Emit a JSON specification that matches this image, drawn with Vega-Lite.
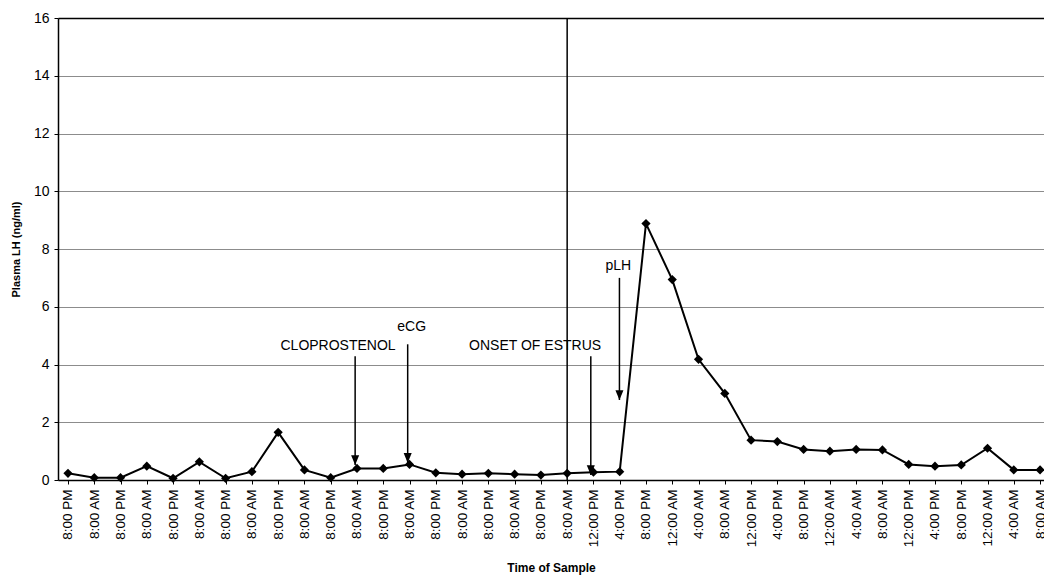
{
  "$schema": "https://vega.github.io/schema/vega-lite/v6.json",
  "autosize": {"type": "none"},
  "padding": {"left": 58, "top": 18, "right": 0, "bottom": 97},
  "width": 986,
  "height": 462,
  "background": "white",
  "config": {
    "font": "Liberation Sans",
    "view": {"stroke": null},
    "axis": {"labelFont": "Liberation Sans", "titleFont": "Liberation Sans", "labelColor": "black", "titleColor": "black", "domainColor": "black", "tickColor": "black"},
    "axisX": {"labelOverlap": false, "labelSeparation": 0}
  },
  "datasets": {
    "lh": [
      {"i": 0, "time": "8:00 PM", "lh": 0.23},
      {"i": 1, "time": "8:00 AM", "lh": 0.08},
      {"i": 2, "time": "8:00 PM", "lh": 0.08},
      {"i": 3, "time": "8:00 AM", "lh": 0.48},
      {"i": 4, "time": "8:00 PM", "lh": 0.06},
      {"i": 5, "time": "8:00 AM", "lh": 0.63},
      {"i": 6, "time": "8:00 PM", "lh": 0.06},
      {"i": 7, "time": "8:00 AM", "lh": 0.29},
      {"i": 8, "time": "8:00 PM", "lh": 1.65},
      {"i": 9, "time": "8:00 AM", "lh": 0.35},
      {"i": 10, "time": "8:00 PM", "lh": 0.08},
      {"i": 11, "time": "8:00 AM", "lh": 0.40},
      {"i": 12, "time": "8:00 PM", "lh": 0.40},
      {"i": 13, "time": "8:00 AM", "lh": 0.54},
      {"i": 14, "time": "8:00 PM", "lh": 0.25},
      {"i": 15, "time": "8:00 AM", "lh": 0.20},
      {"i": 16, "time": "8:00 PM", "lh": 0.23},
      {"i": 17, "time": "8:00 AM", "lh": 0.20},
      {"i": 18, "time": "8:00 PM", "lh": 0.17},
      {"i": 19, "time": "8:00 AM", "lh": 0.23},
      {"i": 20, "time": "12:00 PM", "lh": 0.27},
      {"i": 21, "time": "4:00 PM", "lh": 0.29},
      {"i": 22, "time": "8:00 PM", "lh": 8.88},
      {"i": 23, "time": "12:00 AM", "lh": 6.94},
      {"i": 24, "time": "4:00 AM", "lh": 4.18},
      {"i": 25, "time": "8:00 AM", "lh": 3.00},
      {"i": 26, "time": "12:00 PM", "lh": 1.38},
      {"i": 27, "time": "4:00 PM", "lh": 1.33},
      {"i": 28, "time": "8:00 PM", "lh": 1.06},
      {"i": 29, "time": "12:00 AM", "lh": 1.00},
      {"i": 30, "time": "4:00 AM", "lh": 1.06},
      {"i": 31, "time": "8:00 AM", "lh": 1.04},
      {"i": 32, "time": "12:00 PM", "lh": 0.54},
      {"i": 33, "time": "4:00 PM", "lh": 0.48},
      {"i": 34, "time": "8:00 PM", "lh": 0.52},
      {"i": 35, "time": "12:00 AM", "lh": 1.10},
      {"i": 36, "time": "4:00 AM", "lh": 0.35},
      {"i": 37, "time": "8:00 AM", "lh": 0.35}
    ],
    "arrows": [
      {"x": 10.93, "top": 4.29, "tip": 0.52},
      {"x": 12.93, "top": 4.70, "tip": 0.59},
      {"x": 19.90, "top": 4.29, "tip": 0.17},
      {"x": 20.99, "top": 7.00, "tip": 2.77}
    ],
    "notes": [
      {"x": 10.28, "y": 4.65, "text": "CLOPROSTENOL"},
      {"x": 13.08, "y": 5.29, "text": "eCG"},
      {"x": 17.78, "y": 4.65, "text": "ONSET OF ESTRUS"},
      {"x": 20.95, "y": 7.42, "text": "pLH"}
    ],
    "marker": [
      {"x": 19, "y0": 0, "y1": 16}
    ]
  },
  "encoding": {
    "x": {
      "field": "i", "type": "quantitative",
      "scale": {"domain": [-0.38, 37.15], "nice": false, "zero": false},
      "axis": {
        "values": [0,1,2,3,4,5,6,7,8,9,10,11,12,13,14,15,16,17,18,19,20,21,22,23,24,25,26,27,28,29,30,31,32,33,34,35,36,37],
        "labelExpr": "data('lh')[datum.value] ? data('lh')[datum.value].time : ''",
        "labelAngle": -90, "labelAlign": "right", "labelBaseline": "middle",
        "labelFontSize": 13.5, "labelPadding": 5, "labelOverlap": false, "labelBound": false, "labelFlush": false,
        "tickSize": 4, "domainWidth": 1.5, "grid": false,
        "title": "Time of Sample", "titleFontSize": 12, "titleFontWeight": "bold", "titlePadding": 16
      }
    },
    "y": {
      "field": "lh", "type": "quantitative",
      "scale": {"domain": [0, 16], "nice": false},
      "axis": {
        "values": [0, 2, 4, 6, 8, 10, 12, 14, 16],
        "labelFontSize": 14, "labelPadding": 5, "tickSize": 4, "domainWidth": 1.5,
        "grid": true,
        "gridColor": {"condition": {"test": "datum.value === 16", "value": "black"}, "value": "#8c8c8c"},
        "gridWidth": {"condition": {"test": "datum.value === 16", "value": 1.5}, "value": 1},
        "title": "Plasma LH (ng/ml)", "titleFontSize": 11, "titleFontWeight": "bold", "titlePadding": 12
      }
    }
  },
  "layer": [
    {
      "data": {"name": "lh"},
      "mark": {"type": "line", "color": "black", "strokeWidth": 2}
    },
    {
      "data": {"name": "lh"},
      "mark": {"type": "point", "shape": "diamond", "filled": true, "color": "black", "size": 85, "opacity": 1}
    },
    {
      "data": {"name": "marker"},
      "mark": {"type": "rule", "color": "black", "strokeWidth": 1.5},
      "encoding": {
        "x": {"field": "x", "type": "quantitative"},
        "y": {"field": "y0", "type": "quantitative"},
        "y2": {"field": "y1"}
      }
    },
    {
      "data": {"name": "arrows"},
      "mark": {"type": "rule", "color": "black", "strokeWidth": 1.5},
      "encoding": {
        "x": {"field": "x", "type": "quantitative"},
        "y": {"field": "top", "type": "quantitative"},
        "y2": {"field": "tip"}
      }
    },
    {
      "data": {"name": "arrows"},
      "mark": {"type": "point", "shape": "M-0.45,-1.1L0.45,-1.1L0,0Z", "filled": true, "color": "black", "size": 320, "opacity": 1},
      "encoding": {
        "x": {"field": "x", "type": "quantitative"},
        "y": {"field": "tip", "type": "quantitative"}
      }
    },
    {
      "data": {"name": "notes"},
      "mark": {"type": "text", "font": "Liberation Sans", "fontSize": 14, "color": "black", "align": "center", "baseline": "middle"},
      "encoding": {
        "x": {"field": "x", "type": "quantitative"},
        "y": {"field": "y", "type": "quantitative"},
        "text": {"field": "text"}
      }
    }
  ]
}
